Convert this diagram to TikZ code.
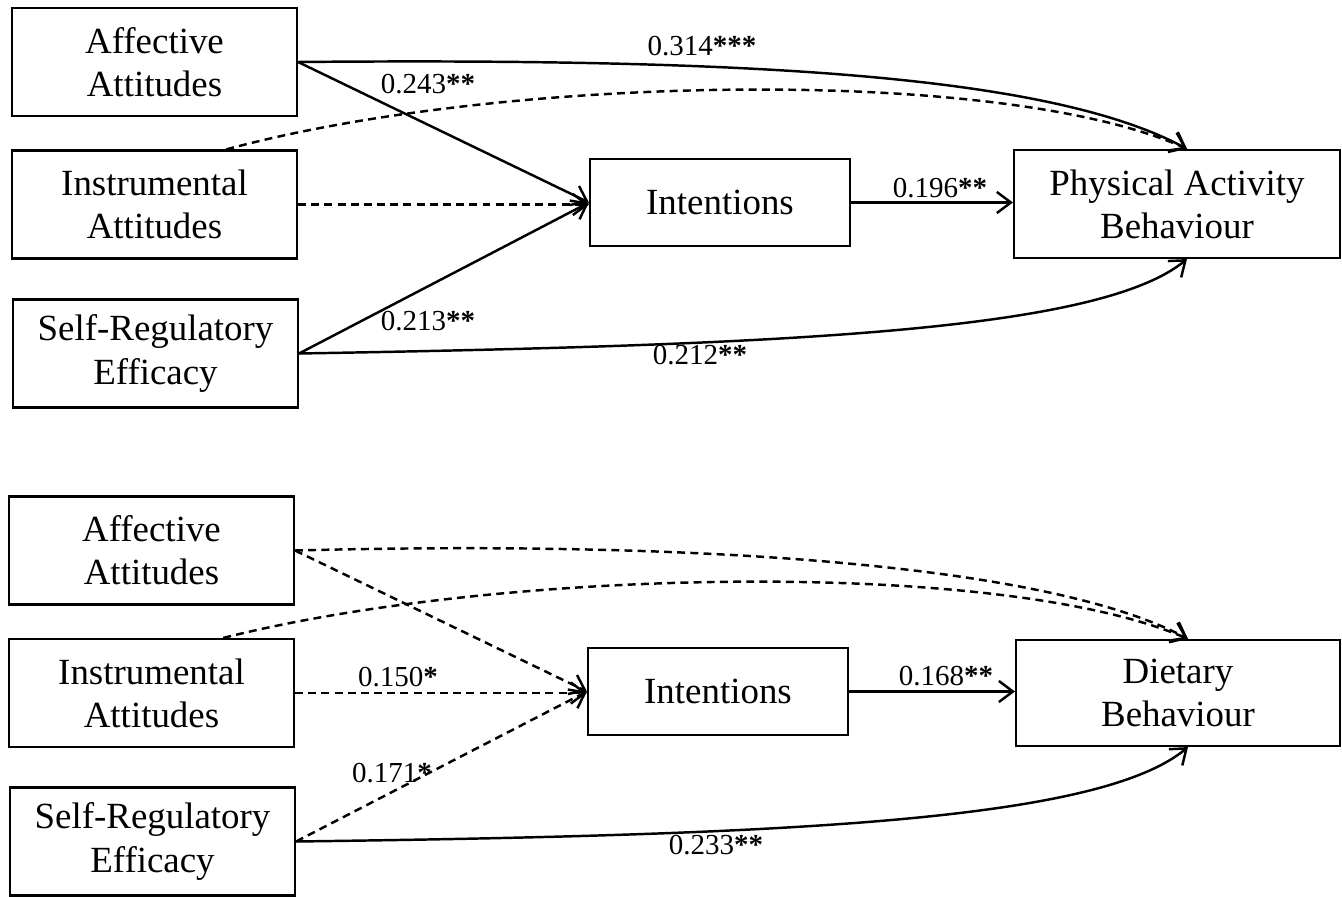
\documentclass[tikz,border=0pt]{standalone}
\usepackage{fontspec}
\setmainfont{Liberation Serif}
\usepackage{tikz}
\usetikzlibrary{calc,arrows.meta}
\definecolor{ink}{HTML}{000000}
\tikzset{
  box/.style={draw=ink, line width=1.2pt, align=center, font=\fontsize{21}{24.5}\selectfont},
  lbox/.style={box, minimum width=5.7cm, minimum height=2.16cm},
  link/.style={draw=ink, line width=1.4pt, -{Straight Barb[length=8pt,width=12pt,line width=1.4pt]}},
  nslink/.style={link, dash pattern=on 4.5pt off 3pt},
  lab/.style={text=ink, font=\fontsize{16.5}{19}\selectfont},
}
\newcommand{\sig}[1]{\textbf{#1}}
\begin{document}
\begin{tikzpicture}
  \useasboundingbox (0,0) rectangle (26.84,17.92);

  % physical activity model
  \node[lbox] (aff1) at (3.09,16.68) {Affective\\Attitudes};
  \node[lbox] (ins1) at (3.09,13.83) {Instrumental\\Attitudes};
  \node[lbox] (srs1) at (3.11,10.85) {Self-Regulatory\\Efficacy};
  \node[box, minimum width=5.2cm, minimum height=1.74cm] (int1) at (14.4,13.87) {Intentions};
  \node[box, minimum width=6.52cm, minimum height=2.16cm] (pab) at (23.54,13.84) {Physical Activity\\Behaviour};

  \draw[link] (aff1.east) -- (int1.west);
  \draw[nslink] (ins1.east) -- (ins1.east -| int1.west);
  \draw[link] (srs1.east) -- (int1.west);
  \draw[link] (int1.east) -- (int1.east -| pab.west);
  \draw[link] (aff1.east) .. controls (15,16.76) and (21,16.42) .. ([xshift=0.2cm]pab.north);
  \draw[nslink] ($(ins1.north)!0.5!(ins1.north east)$) .. controls (10,16.42) and (20,16.62) .. ([xshift=0.2cm]pab.north);
  \draw[link] (srs1.east) .. controls (16,11.02) and (22,11.32) .. ([xshift=0.2cm]pab.south);

  \node[lab] at (14.04,17.0) {0.314\sig{***}};
  \node[lab] at (8.56,16.24) {0.243\sig{**}};
  \node[lab] at (18.8,14.16) {0.196\sig{**}};
  \node[lab] at (8.56,11.5) {0.213\sig{**}};
  \node[lab] at (14.0,10.82) {0.212\sig{**}};

  % dietary model
  \node[lbox] (aff2) at (3.03,6.91) {Affective\\Attitudes};
  \node[lbox] (ins2) at (3.03,4.06) {Instrumental\\Attitudes};
  \node[lbox] (srs2) at (3.05,1.09) {Self-Regulatory\\Efficacy};
  \node[box, minimum width=5.2cm, minimum height=1.74cm] (int2) at (14.36,4.09) {Intentions};
  \node[box, minimum width=6.48cm, minimum height=2.12cm] (diet) at (23.56,4.06) {Dietary\\Behaviour};

  \draw[nslink] (aff2.east) -- (int2.west);
  \draw[nslink] (ins2.east) -- (ins2.east -| int2.west);
  \draw[nslink] (srs2.east) -- (int2.west);
  \draw[link] (int2.east) -- (int2.east -| diet.west);
  \draw[nslink] (aff2.east) .. controls (14,7.12) and (21,6.62) .. ([xshift=0.2cm]diet.north);
  \draw[nslink] ($(ins2.north)!0.5!(ins2.north east)$) .. controls (10,6.56) and (20,6.76) .. ([xshift=0.2cm]diet.north);
  \draw[link] (srs2.east) .. controls (16,1.22) and (22,1.52) .. ([xshift=0.2cm]diet.south);

  \node[lab] at (7.96,4.38) {0.150\sig{*}};
  \node[lab] at (7.84,2.46) {0.171\sig{*}};
  \node[lab] at (18.92,4.4) {0.168\sig{**}};
  \node[lab] at (14.32,1.02) {0.233\sig{**}};
\end{tikzpicture}
\end{document}
